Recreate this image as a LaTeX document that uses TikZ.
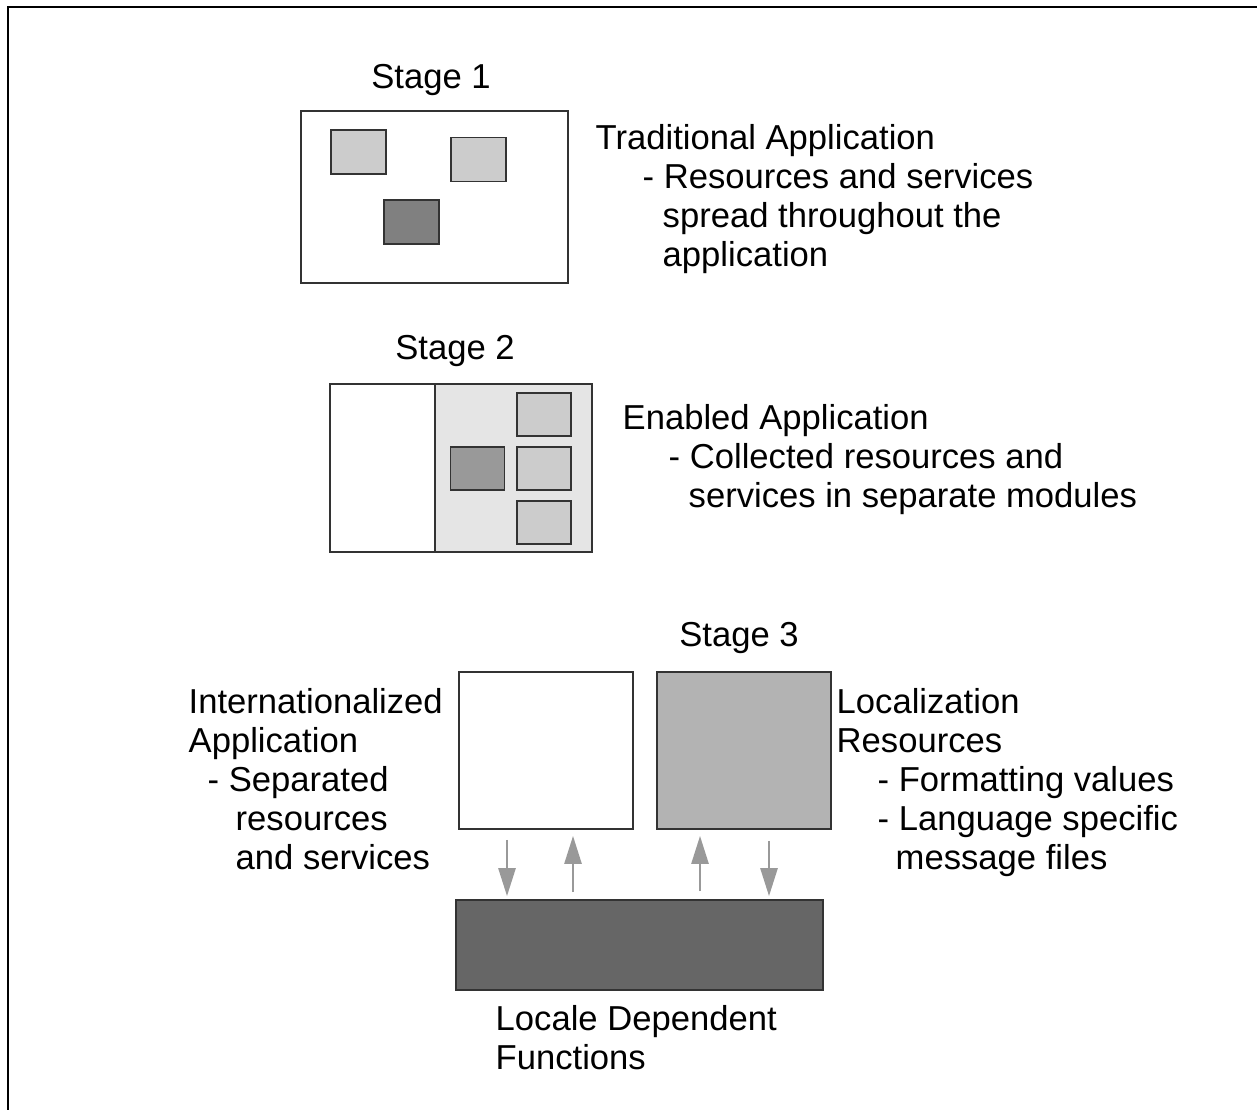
\documentclass[tikz,border=0pt]{standalone}
\usepackage{fontspec}
\setmainfont{Liberation Sans}
\usetikzlibrary{arrows.meta, positioning}

\definecolor{lightbox}{HTML}{CCCCCC}
\definecolor{midbox}{HTML}{999999}
\definecolor{darkbox}{HTML}{808080}
\definecolor{modfill}{HTML}{E5E5E5}
\definecolor{resfill}{HTML}{B3B3B3}
\definecolor{ldffill}{HTML}{666666}

\tikzset{
  panel/.style={draw=black!80, line width=0.5pt, inner sep=0pt},
  chip/.style={panel, minimum width=0.55cm, minimum height=0.44cm},
  label/.style={anchor=north west, align=left, inner sep=0pt},
  title/.style={anchor=base, inner sep=0pt},
  flow/.style={draw=midbox, line width=0.75pt, -{Triangle[length=0.28cm,width=0.17cm]}}
}

\begin{document}
\begin{tikzpicture}[font=\fontsize{9.85}{11.1}\selectfont]
\useasboundingbox (0,0) rectangle (12.57,-11.09);
% frame
\draw[line width=0.7pt] (0.08,-12) -- (0.08,-0.07) -- (13,-0.07);

% stage 1
\node[title] (t1) at (4.31,-0.89) {Stage 1};
\node[panel, minimum width=2.67cm, minimum height=1.72cm] (s1) at (4.345,-1.97) {};
\node[chip, fill=lightbox] (s1a) at (3.585,-1.52) {};
\node[chip, fill=lightbox] (s1b) at (4.785,-1.595) {};
\node[chip, fill=darkbox] (s1c) at (4.115,-2.22) {};
\node[label] (d1) at (5.95,-1.24) {Traditional Application\\
  \hspace*{0.47cm}- Resources and services\\
  \hspace*{0.67cm}spread throughout the\\
  \hspace*{0.67cm}application};

% stage 2
\node[title] (t2) at (4.55,-3.59) {Stage 2};
\node[panel, minimum width=1.05cm, minimum height=1.68cm] (s2code) at (3.825,-4.68) {};
\node[panel, fill=modfill, minimum width=1.57cm, minimum height=1.68cm] (s2res) at (5.135,-4.68) {};
\node[chip, fill=lightbox, minimum width=0.54cm, minimum height=0.43cm] (s2a) at (5.44,-4.145) {};
\node[chip, fill=lightbox, minimum width=0.54cm, minimum height=0.43cm] (s2b) at (5.44,-4.685) {};
\node[chip, fill=lightbox, minimum width=0.54cm, minimum height=0.43cm] (s2c) at (5.44,-5.225) {};
\node[chip, fill=midbox, minimum width=0.54cm, minimum height=0.43cm] (s2d) at (4.775,-4.685) {};
\node[label] (d2) at (6.22,-4.04) {Enabled Application\\
  \hspace*{0.46cm}- Collected resources and\\
  \hspace*{0.66cm}services in separate modules};

% stage 3
\node[title] (t3) at (7.39,-6.46) {Stage 3};
\node[panel, minimum width=1.74cm, minimum height=1.57cm] (app) at (5.46,-7.505) {};
\node[panel, fill=resfill, minimum width=1.74cm, minimum height=1.57cm] (locres) at (7.44,-7.505) {};
\node[panel, fill=ldffill, minimum width=3.67cm, minimum height=0.90cm] (ldf) at (6.395,-9.45) {};
\node[label] (d3) at (1.88,-6.88) {Internationalized\\
  Application\\
  \hspace*{0.19cm}- Separated\\
  \hspace*{0.47cm}resources\\
  \hspace*{0.47cm}and services};
\node[label] (d4) at (8.36,-6.88) {Localization\\
  Resources\\
  \hspace*{0.41cm}- Formatting values\\
  \hspace*{0.41cm}- Language specific\\
  \hspace*{0.59cm}message files};
\node[label] (d5) at (4.95,-10.05) {Locale Dependent\\
  Functions};

% calls between the layers
\draw[flow, shorten <=0.10cm, shorten >=0.03cm] ([xshift=-0.39cm]app.south) -- ([xshift=-0.39cm]app.south |- ldf.north);
\draw[flow, shorten <=0.07cm, shorten >=0.06cm] ([xshift=0.27cm]app.south |- ldf.north) -- ([xshift=0.27cm]app.south);
\draw[flow, shorten <=0.08cm, shorten >=0.06cm] ([xshift=-0.44cm]locres.south |- ldf.north) -- ([xshift=-0.44cm]locres.south);
\draw[flow, shorten <=0.11cm, shorten >=0.03cm] ([xshift=0.25cm]locres.south) -- ([xshift=0.25cm]locres.south |- ldf.north);
\end{tikzpicture}
\end{document}
